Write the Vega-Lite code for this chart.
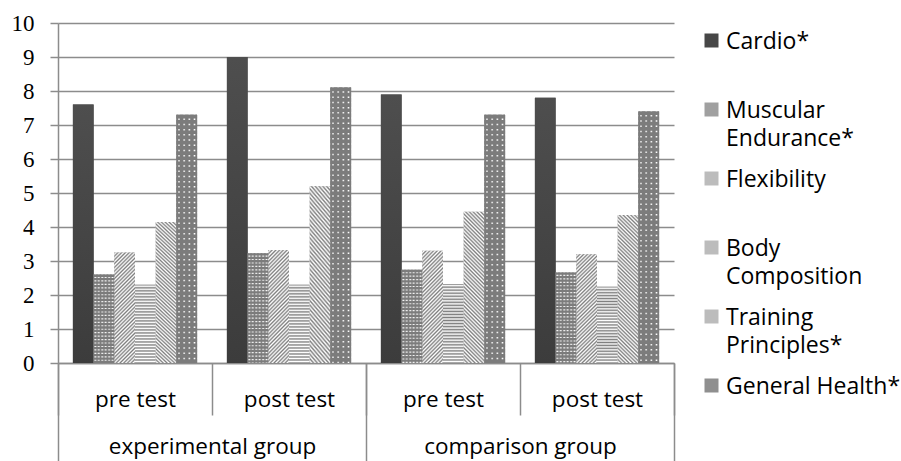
{
  "$schema": "https://vega.github.io/schema/vega-lite/v6.json",
  "width": 616,
  "height": 340,
  "autosize": {"type": "none"},
  "padding": {"left": 58, "top": 23, "right": 227, "bottom": 98},
  "background": "white",
  "config": {"view": {"stroke": null}},
  "data": {
    "values": [
      {"slot": "experimental group|pre test", "group": "experimental group", "test": "pre test", "metric": "Cardio*", "value": 7.6},
      {"slot": "experimental group|pre test", "group": "experimental group", "test": "pre test", "metric": "Muscular Endurance*", "value": 2.6},
      {"slot": "experimental group|pre test", "group": "experimental group", "test": "pre test", "metric": "Flexibility", "value": 3.25},
      {"slot": "experimental group|pre test", "group": "experimental group", "test": "pre test", "metric": "Body Composition", "value": 2.3},
      {"slot": "experimental group|pre test", "group": "experimental group", "test": "pre test", "metric": "Training Principles*", "value": 4.15},
      {"slot": "experimental group|pre test", "group": "experimental group", "test": "pre test", "metric": "General Health*", "value": 7.3},
      {"slot": "experimental group|post test", "group": "experimental group", "test": "post test", "metric": "Cardio*", "value": 9.0},
      {"slot": "experimental group|post test", "group": "experimental group", "test": "post test", "metric": "Muscular Endurance*", "value": 3.23},
      {"slot": "experimental group|post test", "group": "experimental group", "test": "post test", "metric": "Flexibility", "value": 3.32},
      {"slot": "experimental group|post test", "group": "experimental group", "test": "post test", "metric": "Body Composition", "value": 2.3},
      {"slot": "experimental group|post test", "group": "experimental group", "test": "post test", "metric": "Training Principles*", "value": 5.2},
      {"slot": "experimental group|post test", "group": "experimental group", "test": "post test", "metric": "General Health*", "value": 8.1},
      {"slot": "comparison group|pre test", "group": "comparison group", "test": "pre test", "metric": "Cardio*", "value": 7.9},
      {"slot": "comparison group|pre test", "group": "comparison group", "test": "pre test", "metric": "Muscular Endurance*", "value": 2.74},
      {"slot": "comparison group|pre test", "group": "comparison group", "test": "pre test", "metric": "Flexibility", "value": 3.3},
      {"slot": "comparison group|pre test", "group": "comparison group", "test": "pre test", "metric": "Body Composition", "value": 2.32},
      {"slot": "comparison group|pre test", "group": "comparison group", "test": "pre test", "metric": "Training Principles*", "value": 4.45},
      {"slot": "comparison group|pre test", "group": "comparison group", "test": "pre test", "metric": "General Health*", "value": 7.3},
      {"slot": "comparison group|post test", "group": "comparison group", "test": "post test", "metric": "Cardio*", "value": 7.8},
      {"slot": "comparison group|post test", "group": "comparison group", "test": "post test", "metric": "Muscular Endurance*", "value": 2.66},
      {"slot": "comparison group|post test", "group": "comparison group", "test": "post test", "metric": "Flexibility", "value": 3.2},
      {"slot": "comparison group|post test", "group": "comparison group", "test": "post test", "metric": "Body Composition", "value": 2.24},
      {"slot": "comparison group|post test", "group": "comparison group", "test": "post test", "metric": "Training Principles*", "value": 4.35},
      {"slot": "comparison group|post test", "group": "comparison group", "test": "post test", "metric": "General Health*", "value": 7.4}
    ]
  },
  "encoding": {
    "x": {
      "field": "slot",
      "type": "nominal",
      "sort": null,
      "scale": {"paddingInner": 0, "paddingOuter": 0},
      "axis": null
    },
    "xOffset": {
      "field": "metric",
      "type": "nominal",
      "scale": {
        "domain": ["Cardio*", "Muscular Endurance*", "Flexibility", "Body Composition", "Training Principles*", "General Health*"],
        "paddingInner": 0,
        "paddingOuter": 0.72
      }
    },
    "y": {
      "field": "value",
      "type": "quantitative",
      "scale": {"domain": [0, 10], "nice": false},
      "axis": {
        "title": null,
        "values": [0, 1, 2, 3, 4, 5, 6, 7, 8, 9, 10],
        "labelOverlap": false,
        "labelFont": "Liberation Serif",
        "labelFontSize": 23,
        "labelColor": "#000000",
        "labelPadding": 16,
        "tickSize": 8,
        "tickColor": "#8c8c8c",
        "tickWidth": 1.5,
        "domainColor": "#8c8c8c",
        "domainWidth": 1.5,
        "grid": true,
        "gridColor": "#8c8c8c",
        "gridWidth": 1.5
      }
    }
  },
  "layer": [
    {
      "mark": {"type": "bar"},
      "encoding": {
        "x": {
          "field": "slot",
          "type": "nominal",
          "sort": null,
          "scale": {"paddingInner": 0, "paddingOuter": 0},
          "axis": {
            "title": null,
            "orient": "bottom",
            "labelExpr": "split(datum.label, '|')[1]",
            "labelAngle": 0,
            "labelFont": "Open Sans",
            "labelFontSize": 22.5,
            "labelColor": "#000000",
            "labelPadding": -27,
            "labelLimit": 300,
            "tickBand": "extent",
            "tickSize": 52,
            "tickColor": "#8c8c8c",
            "tickWidth": 1.5,
            "domainColor": "#8c8c8c",
            "domainWidth": 1.5,
            "grid": false
          }
        },
        "color": {
          "field": "metric",
          "type": "nominal",
          "scale": {
            "domain": ["Cardio*", "Muscular Endurance*", "Flexibility", "Body Composition", "Training Principles*", "General Health*"],
            "range": ["#474747", "#a0a0a0", "#bcbcbc", "#bcbcbc", "#bcbcbc", "#8f8f8f"]
          },
          "legend": {
            "title": null,
            "orient": "none",
            "legendX": 642,
            "legendY": 6,
            "symbolType": "square",
            "symbolSize": 196,
            "symbolStrokeWidth": 0,
            "labelFont": "Open Sans",
            "labelFontSize": 23,
            "labelColor": "#000000",
            "labelOffset": 3,
            "labelLimit": 300,
            "labelBaseline": "top",
            "gridAlign": "all",
            "rowPadding": 16,
            "labelExpr": "indexof(['Muscular Endurance*', 'Body Composition', 'Training Principles*'], datum.label) >= 0 ? split(datum.label, ' ') : datum.label",
            "encode": {"labels": {"update": {"lineHeight": {"value": 28}, "dy": {"value": -10}}}}
          }
        }
      }
    },
    {
      "transform": [{"filter": {"field": "metric", "equal": "Cardio*"}}],
      "mark": {
        "type": "bar",
        "color": {"gradient": "linear", "x1": 0, "y1": 0, "x2": 0, "y2": 1, "stops": [{"offset": 0, "color": "#4e4e4e"}, {"offset": 1, "color": "#3c3c3c"}]}
      }
    },
    {
      "transform": [{"filter": {"field": "metric", "equal": "Muscular Endurance*"}}],
      "mark": {
        "type": "bar",
        "color": {"gradient": "linear", "x1": 0, "y1": 0, "x2": 1, "y2": 0, "stops": [
          {"offset": 0, "color": "#7f7f7f"}, {"offset": 0.0833, "color": "#ffffff"}, {"offset": 0.1667, "color": "#7f7f7f"}, {"offset": 0.25, "color": "#ffffff"},
          {"offset": 0.3333, "color": "#7f7f7f"}, {"offset": 0.4167, "color": "#ffffff"}, {"offset": 0.5, "color": "#7f7f7f"}, {"offset": 0.5833, "color": "#ffffff"},
          {"offset": 0.6667, "color": "#7f7f7f"}, {"offset": 0.75, "color": "#ffffff"}, {"offset": 0.8333, "color": "#7f7f7f"}, {"offset": 0.9167, "color": "#ffffff"},
          {"offset": 1, "color": "#7f7f7f"}
        ]}
      }
    },
    {
      "transform": [{"filter": {"field": "metric", "equal": "Flexibility"}}],
      "mark": {
        "type": "bar",
        "color": {"gradient": "linear", "x1": 0, "y1": 0, "x2": 0.2149, "y2": 1.1471, "stops": [
          {"offset": 0, "color": "#7f7f7f"}, {"offset": 0.0143, "color": "#ffffff"}, {"offset": 0.0286, "color": "#7f7f7f"}, {"offset": 0.0429, "color": "#ffffff"},
          {"offset": 0.0571, "color": "#7f7f7f"}, {"offset": 0.0714, "color": "#ffffff"}, {"offset": 0.0857, "color": "#7f7f7f"}, {"offset": 0.1, "color": "#ffffff"},
          {"offset": 0.1143, "color": "#7f7f7f"}, {"offset": 0.1286, "color": "#ffffff"}, {"offset": 0.1429, "color": "#7f7f7f"}, {"offset": 0.1571, "color": "#ffffff"},
          {"offset": 0.1714, "color": "#7f7f7f"}, {"offset": 0.1857, "color": "#ffffff"}, {"offset": 0.2, "color": "#7f7f7f"}, {"offset": 0.2143, "color": "#ffffff"},
          {"offset": 0.2286, "color": "#7f7f7f"}, {"offset": 0.2429, "color": "#ffffff"}, {"offset": 0.2571, "color": "#7f7f7f"}, {"offset": 0.2714, "color": "#ffffff"},
          {"offset": 0.2857, "color": "#7f7f7f"}, {"offset": 0.3, "color": "#ffffff"}, {"offset": 0.3143, "color": "#7f7f7f"}, {"offset": 0.3286, "color": "#ffffff"},
          {"offset": 0.3429, "color": "#7f7f7f"}, {"offset": 0.3571, "color": "#ffffff"}, {"offset": 0.3714, "color": "#7f7f7f"}, {"offset": 0.3857, "color": "#ffffff"},
          {"offset": 0.4, "color": "#7f7f7f"}, {"offset": 0.4143, "color": "#ffffff"}, {"offset": 0.4286, "color": "#7f7f7f"}, {"offset": 0.4429, "color": "#ffffff"},
          {"offset": 0.4571, "color": "#7f7f7f"}, {"offset": 0.4714, "color": "#ffffff"}, {"offset": 0.4857, "color": "#7f7f7f"}, {"offset": 0.5, "color": "#ffffff"},
          {"offset": 0.5143, "color": "#7f7f7f"}, {"offset": 0.5286, "color": "#ffffff"}, {"offset": 0.5429, "color": "#7f7f7f"}, {"offset": 0.5571, "color": "#ffffff"},
          {"offset": 0.5714, "color": "#7f7f7f"}, {"offset": 0.5857, "color": "#ffffff"}, {"offset": 0.6, "color": "#7f7f7f"}, {"offset": 0.6143, "color": "#ffffff"},
          {"offset": 0.6286, "color": "#7f7f7f"}, {"offset": 0.6429, "color": "#ffffff"}, {"offset": 0.6571, "color": "#7f7f7f"}, {"offset": 0.6714, "color": "#ffffff"},
          {"offset": 0.6857, "color": "#7f7f7f"}, {"offset": 0.7, "color": "#ffffff"}, {"offset": 0.7143, "color": "#7f7f7f"}, {"offset": 0.7286, "color": "#ffffff"},
          {"offset": 0.7429, "color": "#7f7f7f"}, {"offset": 0.7571, "color": "#ffffff"}, {"offset": 0.7714, "color": "#7f7f7f"}, {"offset": 0.7857, "color": "#ffffff"},
          {"offset": 0.8, "color": "#7f7f7f"}, {"offset": 0.8143, "color": "#ffffff"}, {"offset": 0.8286, "color": "#7f7f7f"}, {"offset": 0.8429, "color": "#ffffff"},
          {"offset": 0.8571, "color": "#7f7f7f"}, {"offset": 0.8714, "color": "#ffffff"}, {"offset": 0.8857, "color": "#7f7f7f"}, {"offset": 0.9, "color": "#ffffff"},
          {"offset": 0.9143, "color": "#7f7f7f"}, {"offset": 0.9286, "color": "#ffffff"}, {"offset": 0.9429, "color": "#7f7f7f"}, {"offset": 0.9571, "color": "#ffffff"},
          {"offset": 0.9714, "color": "#7f7f7f"}, {"offset": 0.9857, "color": "#ffffff"}, {"offset": 1, "color": "#7f7f7f"}
        ]}
      }
    },
    {
      "transform": [{"filter": {"field": "metric", "equal": "Body Composition"}}],
      "mark": {
        "type": "bar",
        "color": {"gradient": "linear", "x1": 0, "y1": 0, "x2": 0, "y2": 1, "stops": [
          {"offset": 0, "color": "#7f7f7f"}, {"offset": 0.0192, "color": "#ffffff"}, {"offset": 0.0385, "color": "#7f7f7f"}, {"offset": 0.0577, "color": "#ffffff"},
          {"offset": 0.0769, "color": "#7f7f7f"}, {"offset": 0.0962, "color": "#ffffff"}, {"offset": 0.1154, "color": "#7f7f7f"}, {"offset": 0.1346, "color": "#ffffff"},
          {"offset": 0.1538, "color": "#7f7f7f"}, {"offset": 0.1731, "color": "#ffffff"}, {"offset": 0.1923, "color": "#7f7f7f"}, {"offset": 0.2115, "color": "#ffffff"},
          {"offset": 0.2308, "color": "#7f7f7f"}, {"offset": 0.25, "color": "#ffffff"}, {"offset": 0.2692, "color": "#7f7f7f"}, {"offset": 0.2885, "color": "#ffffff"},
          {"offset": 0.3077, "color": "#7f7f7f"}, {"offset": 0.3269, "color": "#ffffff"}, {"offset": 0.3462, "color": "#7f7f7f"}, {"offset": 0.3654, "color": "#ffffff"},
          {"offset": 0.3846, "color": "#7f7f7f"}, {"offset": 0.4038, "color": "#ffffff"}, {"offset": 0.4231, "color": "#7f7f7f"}, {"offset": 0.4423, "color": "#ffffff"},
          {"offset": 0.4615, "color": "#7f7f7f"}, {"offset": 0.4808, "color": "#ffffff"}, {"offset": 0.5, "color": "#7f7f7f"}, {"offset": 0.5192, "color": "#ffffff"},
          {"offset": 0.5385, "color": "#7f7f7f"}, {"offset": 0.5577, "color": "#ffffff"}, {"offset": 0.5769, "color": "#7f7f7f"}, {"offset": 0.5962, "color": "#ffffff"},
          {"offset": 0.6154, "color": "#7f7f7f"}, {"offset": 0.6346, "color": "#ffffff"}, {"offset": 0.6538, "color": "#7f7f7f"}, {"offset": 0.6731, "color": "#ffffff"},
          {"offset": 0.6923, "color": "#7f7f7f"}, {"offset": 0.7115, "color": "#ffffff"}, {"offset": 0.7308, "color": "#7f7f7f"}, {"offset": 0.75, "color": "#ffffff"},
          {"offset": 0.7692, "color": "#7f7f7f"}, {"offset": 0.7885, "color": "#ffffff"}, {"offset": 0.8077, "color": "#7f7f7f"}, {"offset": 0.8269, "color": "#ffffff"},
          {"offset": 0.8462, "color": "#7f7f7f"}, {"offset": 0.8654, "color": "#ffffff"}, {"offset": 0.8846, "color": "#7f7f7f"}, {"offset": 0.9038, "color": "#ffffff"},
          {"offset": 0.9231, "color": "#7f7f7f"}, {"offset": 0.9423, "color": "#ffffff"}, {"offset": 0.9615, "color": "#7f7f7f"}, {"offset": 0.9808, "color": "#ffffff"},
          {"offset": 1, "color": "#7f7f7f"}
        ]}
      }
    },
    {
      "transform": [{"filter": {"field": "metric", "equal": "Training Principles*"}}],
      "mark": {
        "type": "bar",
        "color": {"gradient": "linear", "x1": 0, "y1": 1, "x2": 0.1541, "y2": -0.1167, "stops": [
          {"offset": 0, "color": "#7f7f7f"}, {"offset": 0.0111, "color": "#ffffff"}, {"offset": 0.0222, "color": "#7f7f7f"}, {"offset": 0.0333, "color": "#ffffff"},
          {"offset": 0.0444, "color": "#7f7f7f"}, {"offset": 0.0556, "color": "#ffffff"}, {"offset": 0.0667, "color": "#7f7f7f"}, {"offset": 0.0778, "color": "#ffffff"},
          {"offset": 0.0889, "color": "#7f7f7f"}, {"offset": 0.1, "color": "#ffffff"}, {"offset": 0.1111, "color": "#7f7f7f"}, {"offset": 0.1222, "color": "#ffffff"},
          {"offset": 0.1333, "color": "#7f7f7f"}, {"offset": 0.1444, "color": "#ffffff"}, {"offset": 0.1556, "color": "#7f7f7f"}, {"offset": 0.1667, "color": "#ffffff"},
          {"offset": 0.1778, "color": "#7f7f7f"}, {"offset": 0.1889, "color": "#ffffff"}, {"offset": 0.2, "color": "#7f7f7f"}, {"offset": 0.2111, "color": "#ffffff"},
          {"offset": 0.2222, "color": "#7f7f7f"}, {"offset": 0.2333, "color": "#ffffff"}, {"offset": 0.2444, "color": "#7f7f7f"}, {"offset": 0.2556, "color": "#ffffff"},
          {"offset": 0.2667, "color": "#7f7f7f"}, {"offset": 0.2778, "color": "#ffffff"}, {"offset": 0.2889, "color": "#7f7f7f"}, {"offset": 0.3, "color": "#ffffff"},
          {"offset": 0.3111, "color": "#7f7f7f"}, {"offset": 0.3222, "color": "#ffffff"}, {"offset": 0.3333, "color": "#7f7f7f"}, {"offset": 0.3444, "color": "#ffffff"},
          {"offset": 0.3556, "color": "#7f7f7f"}, {"offset": 0.3667, "color": "#ffffff"}, {"offset": 0.3778, "color": "#7f7f7f"}, {"offset": 0.3889, "color": "#ffffff"},
          {"offset": 0.4, "color": "#7f7f7f"}, {"offset": 0.4111, "color": "#ffffff"}, {"offset": 0.4222, "color": "#7f7f7f"}, {"offset": 0.4333, "color": "#ffffff"},
          {"offset": 0.4444, "color": "#7f7f7f"}, {"offset": 0.4556, "color": "#ffffff"}, {"offset": 0.4667, "color": "#7f7f7f"}, {"offset": 0.4778, "color": "#ffffff"},
          {"offset": 0.4889, "color": "#7f7f7f"}, {"offset": 0.5, "color": "#ffffff"}, {"offset": 0.5111, "color": "#7f7f7f"}, {"offset": 0.5222, "color": "#ffffff"},
          {"offset": 0.5333, "color": "#7f7f7f"}, {"offset": 0.5444, "color": "#ffffff"}, {"offset": 0.5556, "color": "#7f7f7f"}, {"offset": 0.5667, "color": "#ffffff"},
          {"offset": 0.5778, "color": "#7f7f7f"}, {"offset": 0.5889, "color": "#ffffff"}, {"offset": 0.6, "color": "#7f7f7f"}, {"offset": 0.6111, "color": "#ffffff"},
          {"offset": 0.6222, "color": "#7f7f7f"}, {"offset": 0.6333, "color": "#ffffff"}, {"offset": 0.6444, "color": "#7f7f7f"}, {"offset": 0.6556, "color": "#ffffff"},
          {"offset": 0.6667, "color": "#7f7f7f"}, {"offset": 0.6778, "color": "#ffffff"}, {"offset": 0.6889, "color": "#7f7f7f"}, {"offset": 0.7, "color": "#ffffff"},
          {"offset": 0.7111, "color": "#7f7f7f"}, {"offset": 0.7222, "color": "#ffffff"}, {"offset": 0.7333, "color": "#7f7f7f"}, {"offset": 0.7444, "color": "#ffffff"},
          {"offset": 0.7556, "color": "#7f7f7f"}, {"offset": 0.7667, "color": "#ffffff"}, {"offset": 0.7778, "color": "#7f7f7f"}, {"offset": 0.7889, "color": "#ffffff"},
          {"offset": 0.8, "color": "#7f7f7f"}, {"offset": 0.8111, "color": "#ffffff"}, {"offset": 0.8222, "color": "#7f7f7f"}, {"offset": 0.8333, "color": "#ffffff"},
          {"offset": 0.8444, "color": "#7f7f7f"}, {"offset": 0.8556, "color": "#ffffff"}, {"offset": 0.8667, "color": "#7f7f7f"}, {"offset": 0.8778, "color": "#ffffff"},
          {"offset": 0.8889, "color": "#7f7f7f"}, {"offset": 0.9, "color": "#ffffff"}, {"offset": 0.9111, "color": "#7f7f7f"}, {"offset": 0.9222, "color": "#ffffff"},
          {"offset": 0.9333, "color": "#7f7f7f"}, {"offset": 0.9444, "color": "#ffffff"}, {"offset": 0.9556, "color": "#7f7f7f"}, {"offset": 0.9667, "color": "#ffffff"},
          {"offset": 0.9778, "color": "#7f7f7f"}, {"offset": 0.9889, "color": "#ffffff"}, {"offset": 1, "color": "#7f7f7f"}
        ]}
      }
    },
    {
      "transform": [{"filter": {"field": "metric", "equal": "General Health*"}}],
      "mark": {
        "type": "bar",
        "color": {"gradient": "linear", "x1": 0, "y1": 0, "x2": 1, "y2": 0, "stops": [
          {"offset": 0, "color": "#7a7a7a"}, {"offset": 0.055, "color": "#7a7a7a"}, {"offset": 0.125, "color": "#ffffff"}, {"offset": 0.195, "color": "#7a7a7a"},
          {"offset": 0.305, "color": "#7a7a7a"}, {"offset": 0.375, "color": "#ffffff"}, {"offset": 0.445, "color": "#7a7a7a"},
          {"offset": 0.555, "color": "#7a7a7a"}, {"offset": 0.625, "color": "#ffffff"}, {"offset": 0.695, "color": "#7a7a7a"},
          {"offset": 0.805, "color": "#7a7a7a"}, {"offset": 0.875, "color": "#ffffff"}, {"offset": 0.945, "color": "#7a7a7a"}, {"offset": 1, "color": "#7a7a7a"}
        ]}
      }
    },
    {
      "transform": [{"filter": {"field": "metric", "oneOf": ["Muscular Endurance*", "General Health*"]}}],
      "mark": {"type": "rule", "color": "#7c7c7c", "strokeWidth": 20.7},
      "encoding": {
        "y2": {"datum": 0},
        "strokeDash": {
          "field": "metric",
          "type": "nominal",
          "scale": {"domain": ["Muscular Endurance*", "General Health*"], "range": [[2.3, 1.15], [3.7, 1.5]]},
          "legend": null
        }
      }
    },
    {
      "mark": {"type": "bar", "opacity": 0},
      "encoding": {
        "x": {
          "field": "group",
          "type": "nominal",
          "sort": null,
          "scale": {"paddingInner": 0, "paddingOuter": 0},
          "axis": {
            "title": null,
            "orient": "bottom",
            "labelAngle": 0,
            "labelFont": "Open Sans",
            "labelFontSize": 22.5,
            "labelColor": "#000000",
            "labelPadding": -26,
            "labelLimit": 400,
            "tickBand": "extent",
            "tickSize": 98,
            "tickColor": "#8c8c8c",
            "tickWidth": 1.5,
            "domain": false,
            "grid": false
          }
        }
      }
    }
  ],
  "resolve": {"scale": {"x": "independent"}}
}
